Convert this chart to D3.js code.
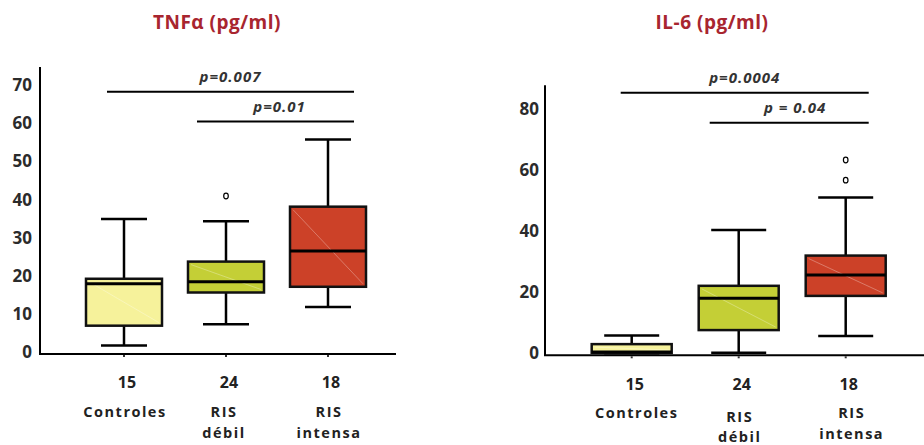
<!DOCTYPE html>
<html>
<head>
<meta charset="utf-8">
<script src="https://cdn.jsdelivr.net/npm/d3@7"></script>
<style>
  body { margin: 0; background: #fff; }
  svg { display: block; font-family: "Open Sans", "DejaVu Sans", sans-serif; }
</style>
</head>
<body>
<svg id="chart" width="924" height="445"></svg>
<script>
// groups
const categories = ["Controles", "RIS débil", "RIS intensa"];
const counts = ["15", "24", "18"];
const boxColors = ["#f6f29b", "#c4cf36", "#cc4128"];

// TNFa: [min, q1, median, q3, max]
const tnfStats = [
    [1.7, 6.9, 17.9, 19.2, 34.9],
    [7.3, 15.6, 18.4, 23.7, 34.3],
    [11.8, 17.1, 26.5, 38.1, 55.7]
];
const tnfOutliers = [[], [40.9], []];
const tnfTicks = [0, 10, 20, 30, 40, 50, 60, 70];
const tnfPvals = [
    { from: 0, to: 2, level: 68.2, label: "p=0.007" },
    { from: 1, to: 2, level: 60.4, label: "p=0.01" }
];

// IL-6
const ilStats = [
    [0, 0.1, 0.4, 3.0, 5.8],
    [0.2, 7.6, 18.0, 22.1, 40.4],
    [5.7, 18.8, 25.6, 32.0, 51.0]
];
const ilOutliers = [[], [], [63.3, 56.7]];
const ilTicks = [0, 20, 40, 60, 80];
const ilPvals = [
    { from: 0, to: 2, level: 85.3, label: "p=0.0004" },
    { from: 1, to: 2, level: 75.5, label: "p = 0.04" }
];

const svg = d3.select("#chart");

function drawPanel(opt) {
    const { title, titleX, stats, outliers, ticks, pvals, yMax, yTop, axisX, axisRight,
            y0, yMaxPx, xFirst, xLast, boxW, capW, labelX, catLines, barPad } = opt;

    const y = d3.scaleLinear().domain([0, yMax]).range([y0, yMaxPx]);
    const x = d3.scalePoint().domain(categories).range([xFirst, xLast]);
    const g = svg.append("g");

    g.append("text")
        .attr("x", titleX).attr("y", 29)
        .attr("text-anchor", "middle")
        .attr("fill", "#a8252f")
        .style("font-size", "19px").style("font-weight", "bold")
        .style("letter-spacing", "0.5px")
        .text(title);

    // axes
    g.append("line")
        .attr("x1", axisX).attr("x2", axisX)
        .attr("y1", y(yTop)).attr("y2", y0 + 2)
        .attr("stroke", "#000").attr("stroke-width", 2);
    g.append("line")
        .attr("x1", axisX - 1).attr("x2", axisRight)
        .attr("y1", y0 + 2).attr("y2", y0 + 2)
        .attr("stroke", "#000").attr("stroke-width", 2);

    g.selectAll(".tick").data(ticks).enter().append("text")
        .attr("x", labelX).attr("y", d => y(d))
        .attr("dy", "0.36em")
        .attr("text-anchor", "end")
        .attr("fill", "#2b2b2b")
        .style("font-size", "17px").style("font-weight", "bold")
        .text(d => d);

    // small ticks under x axis
    g.selectAll(".xt").data(categories).enter().append("line")
        .attr("x1", d => x(d)).attr("x2", d => x(d))
        .attr("y1", y0 + 3).attr("y2", y0 + 5)
        .attr("stroke", "#333").attr("stroke-width", 2);

    const boxes = g.selectAll(".box").data(stats).enter().append("g");
    const cx = (d, i) => x(categories[i]);

    // whiskers
    boxes.append("line")
        .attr("x1", cx).attr("x2", cx)
        .attr("y1", d => y(d[4])).attr("y2", d => y(d[0]))
        .attr("stroke", "#000").attr("stroke-width", 2.5);
    boxes.append("line")
        .attr("x1", (d, i) => cx(d, i) - capW / 2).attr("x2", (d, i) => cx(d, i) + capW / 2)
        .attr("y1", d => y(d[4])).attr("y2", d => y(d[4]))
        .attr("stroke", "#000").attr("stroke-width", 2.5);
    boxes.append("line")
        .attr("x1", (d, i) => cx(d, i) - capW / 2).attr("x2", (d, i) => cx(d, i) + capW / 2)
        .attr("y1", d => y(d[0])).attr("y2", d => y(d[0]))
        .attr("stroke", "#000").attr("stroke-width", 2.5);

    boxes.append("rect")
        .attr("x", (d, i) => cx(d, i) - boxW / 2)
        .attr("y", d => y(d[3]))
        .attr("width", boxW)
        .attr("height", d => y(d[1]) - y(d[3]))
        .attr("fill", (d, i) => boxColors[i])
        .attr("stroke", "#111").attr("stroke-width", 2.5);

    // faint diagonal artefact
    boxes.append("line")
        .attr("x1", (d, i) => cx(d, i) - boxW / 2 + 3).attr("x2", (d, i) => cx(d, i) + boxW / 2 - 3)
        .attr("y1", d => y(d[3]) + 3).attr("y2", d => y(d[1]) - 3)
        .attr("stroke", "#fff").attr("stroke-opacity", 0.3).attr("stroke-width", 1);

    boxes.append("line")
        .attr("x1", (d, i) => cx(d, i) - boxW / 2).attr("x2", (d, i) => cx(d, i) + boxW / 2)
        .attr("y1", d => y(d[2])).attr("y2", d => y(d[2]))
        .attr("stroke", "#000").attr("stroke-width", 3);

    outliers.forEach((vals, i) => {
        g.selectAll(null).data(vals).enter().append("ellipse")
            .attr("cx", x(categories[i])).attr("cy", d => y(d))
            .attr("rx", 2.3).attr("ry", 2.8)
            .attr("fill", "#fff").attr("stroke", "#000").attr("stroke-width", 1.2);
    });

    // significance bars
    pvals.forEach((p, k) => {
        const x1 = x(categories[p.from]) - barPad[k][0];
        const x2 = x(categories[p.to]) + barPad[k][1];
        g.append("line")
            .attr("x1", x1).attr("x2", x2)
            .attr("y1", y(p.level)).attr("y2", y(p.level))
            .attr("stroke", "#000").attr("stroke-width", 2);
        g.append("text")
            .attr("x", (x1 + x2) / 2 + barPad[k][2]).attr("y", y(p.level) - 10)
            .attr("text-anchor", "middle")
            .attr("fill", "#333")
            .style("font-size", "15px").style("font-weight", "bold").style("font-style", "italic")
            .style("letter-spacing", "1px")
            .text(p.label);
    });

    // category labels
    categories.forEach((c, i) => {
        const cxv = x(c) + catLines[i].dx;
        g.append("text")
            .attr("x", x(c) + 3).attr("y", catLines[i].nY)
            .attr("text-anchor", "middle")
            .attr("fill", "#222")
            .style("font-size", "16px").style("font-weight", "bold")
            .text(counts[i]);
        c.split(" ").forEach((w, j) => {
            g.append("text")
                .attr("x", cxv).attr("y", catLines[i].y[j])
                .attr("text-anchor", "middle")
                .attr("fill", "#222")
                .style("font-size", "14.5px").style("font-weight", "bold")
                .style("letter-spacing", "1.5px")
                .text(w);
        });
    });
}

drawPanel({
    title: "TNFα (pg/ml)", titleX: 217,
    stats: tnfStats, outliers: tnfOutliers, ticks: tnfTicks, pvals: tnfPvals,
    yMax: 70, yTop: 74.7, y0: 352, yMaxPx: 85,
    axisX: 40, axisRight: 396, labelX: 32,
    xFirst: 124, xLast: 328, boxW: 76, capW: 46,
    barPad: [[17, 26, 0], [29, 26, 4]],
    catLines: [
        { nY: 388, dx: 1, y: [417] },
        { nY: 388, dx: -2, y: [417, 438] },
        { nY: 388, dx: 1, y: [417, 438] }
    ]
});

drawPanel({
    title: "IL-6 (pg/ml)", titleX: 712,
    stats: ilStats, outliers: ilOutliers, ticks: ilTicks, pvals: ilPvals,
    yMax: 80, yTop: 87.8, y0: 353.3, yMaxPx: 109,
    axisX: 545, axisRight: 924, labelX: 539,
    xFirst: 631.7, xLast: 845.7, boxW: 80, capW: 55,
    barPad: [[11, 23, 0], [29, 23, 6]],
    catLines: [
        { nY: 390, dx: 5, y: [418] },
        { nY: 390, dx: 1, y: [422, 442] },
        { nY: 390, dx: 6, y: [418, 439] }
    ]
});
</script>
</body>
</html>
